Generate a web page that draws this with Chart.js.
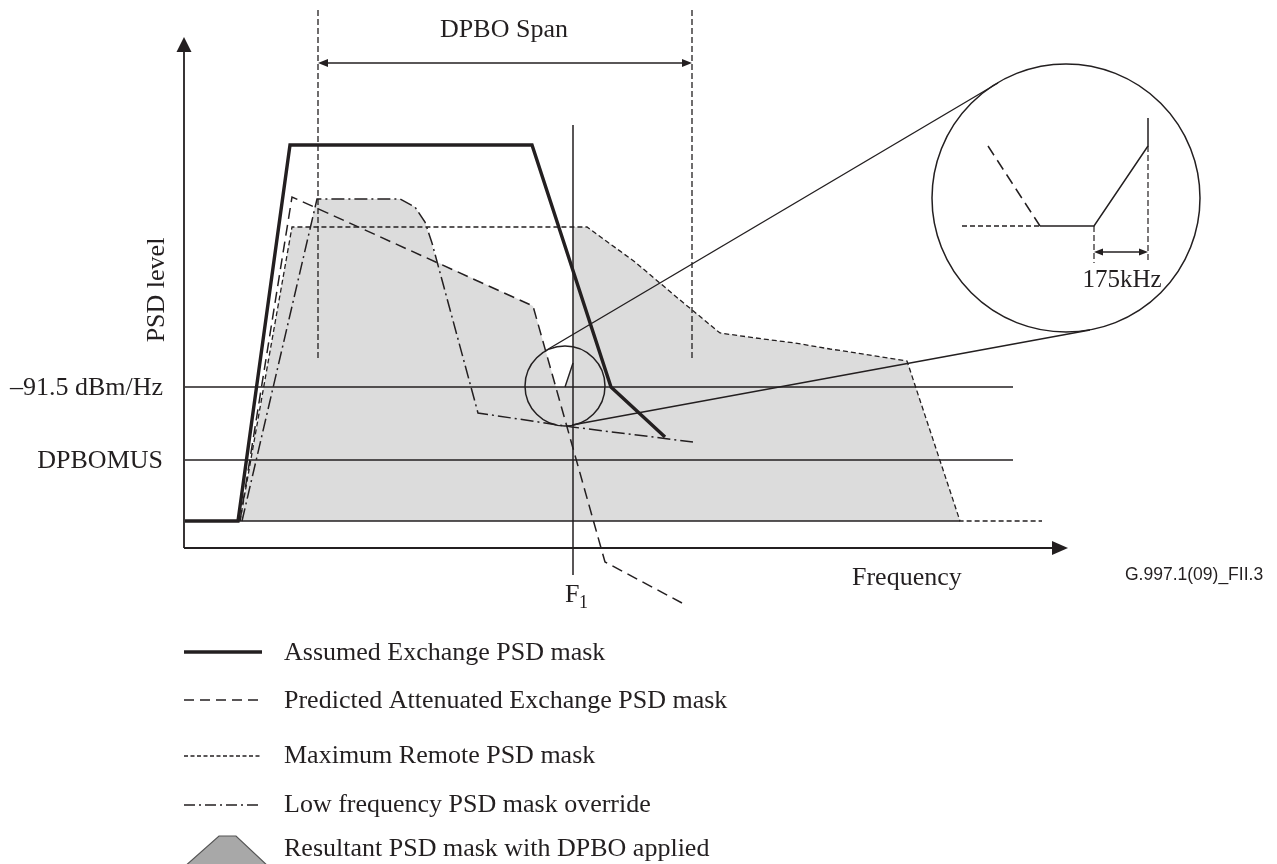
<!DOCTYPE html>
<html><head><meta charset="utf-8">
<script src="https://cdn.jsdelivr.net/npm/chart.js@4"></script>
<style>html,body{margin:0;padding:0;background:#fff;overflow:hidden}canvas{display:block}</style>
</head><body>
<canvas id="c" width="1277" height="864"></canvas>
<script>
// Schematic units: x = frequency (arbitrary), y = PSD level (arbitrary)
const assumedMask   = [[1,27],[54,27],[106,403],[348,403],[427,161],[481,111]];
const predictedMask = [[56,27],[108,351],[349,242],[421,-14],[498,-55]];
const remoteMask    = [[56,27],[108,321],[403,321],[451,286],[496,248],[536,215],[579,209],[611,205],[646,199],[673,195],[723,187],[776,27],[858,27]];
const lowFreqMask   = [[58,27],[133,349],[216,349],[231,341],[241,326],[248,305],[294,135],[388,121],[509,106]];
const resultantMask = [[56,27],[108,321],[126,321],[133,349],[216,349],[231,341],[241,326],[253,286],[349,242],[372,161],[381,161],[389,185],[389,321],[403,321],[451,286],[496,248],[536,215],[579,209],[611,205],[646,199],[673,195],[723,187],[776,27]];
const floorLevel = 27, floorStart = 54, floorEnd = 776;
const level915 = 161, levelDPBOMUS = 88, refLineEnd = 829;
const F1 = 389;
const dpboSpanStart = 134, dpboSpanEnd = 508;
const riseSegment = [[381,161],[389,185]];
// zoom inset (magnified view around F1)
const zoomCircle = {x:381, y:162, r:40};
const bigCircle  = {x:882, y:350, r:134};
const tangentUpper = [[361,197],[814,465]];
const tangentLower = [[388,123],[906,218]];
const insetPred   = [[804,402],[856,322]];
const insetRemote = [[778,322],[856,322]];
const insetResult = [[856,322],[910,322],[964,402],[964,430]];
const insetGap = [910, 964]; // 175 kHz
const legendLabels = ['Assumed Exchange PSD mask','Predicted Attenuated Exchange PSD mask','Maximum Remote PSD mask','Low frequency PSD mask override','Resultant PSD mask with DPBO applied'];

const INK = '#231f20';
const SERIF = '"Liberation Serif","Times New Roman",serif';
const pts = a => a.map(([x,y]) => ({x, y}));
const DASH = [11,6], SHORT = [5,3], DOTDASH = [13,4,2,4];

function ln(data, o) {
  return Object.assign({data: pts(data), showLine: true, pointRadius: 0, borderColor: INK,
    borderWidth: 1.5, fill: false, tension: 0, borderCapStyle: 'butt', borderJoinStyle: 'miter', order: 0}, o || {});
}

const datasets = [
  ln(resultantMask, {fill: {value: floorLevel}, backgroundColor: '#dcdcdc', borderWidth: 0, borderColor: 'rgba(0,0,0,0)', order: 10}),
  ln([[0,0],[870,0]], {borderWidth: 1.8}),
  ln([[0,0],[0,500]], {borderWidth: 1.8}),
  ln([[floorStart,floorLevel],[floorEnd,floorLevel]], {borderWidth: 1.4}),
  ln([[1,level915],[refLineEnd,level915]], {borderWidth: 1.5}),
  ln([[1,levelDPBOMUS],[refLineEnd,levelDPBOMUS]], {borderWidth: 1.5}),
  ln([[F1,423],[F1,-27]], {borderWidth: 1.5}),
  ln([[dpboSpanStart,538],[dpboSpanStart,188]], {borderWidth: 1.3, borderDash: [6,3]}),
  ln([[dpboSpanEnd,538],[dpboSpanEnd,188]], {borderWidth: 1.3, borderDash: [6,3]}),
  ln([[dpboSpanStart+4,485],[dpboSpanEnd-4,485]], {borderWidth: 1.5}),
  ln(remoteMask, {borderWidth: 1.3, borderDash: SHORT}),
  ln(predictedMask, {borderWidth: 1.5, borderDash: DASH}),
  ln(lowFreqMask, {borderWidth: 1.5, borderDash: DOTDASH}),
  ln(riseSegment, {borderWidth: 1.4}),
  ln(assumedMask, {borderWidth: 3.4}),
  ln(tangentUpper, {borderWidth: 1.4}),
  ln(tangentLower, {borderWidth: 1.4}),
  ln(insetPred, {borderWidth: 1.5, borderDash: DASH}),
  ln(insetRemote, {borderWidth: 1.3, borderDash: SHORT}),
  ln(insetResult, {borderWidth: 1.5}),
  ln([[insetGap[0],322],[insetGap[0],285]], {borderWidth: 1.2, borderDash: [6,3]}),
  ln([[insetGap[1],402],[insetGap[1],285]], {borderWidth: 1.2, borderDash: [6,3]}),
  ln([[insetGap[0]+4,296],[insetGap[1]-4,296]], {borderWidth: 1.4}),
  {type: 'bubble', data: [zoomCircle], backgroundColor: 'rgba(0,0,0,0)', borderColor: INK, borderWidth: 1.5, order: 0, clip: false},
  {type: 'bubble', data: [bigCircle], backgroundColor: 'rgba(0,0,0,0)', borderColor: INK, borderWidth: 1.5, order: 0, clip: false}
];

function arrow(ctx, tx, ty, dx, dy, len, hw) {
  const bx = tx - dx*len, by = ty - dy*len;
  ctx.beginPath();
  ctx.moveTo(tx, ty);
  ctx.lineTo(bx - dy*hw, by + dx*hw);
  ctx.lineTo(bx + dy*hw, by - dx*hw);
  ctx.closePath();
  ctx.fill();
}

const annot = {
  id: 'annot',
  afterDraw(chart) {
    const ctx = chart.ctx, xs = chart.scales.x, ys = chart.scales.y;
    const X = v => xs.getPixelForValue(v), Y = v => ys.getPixelForValue(v);
    ctx.save();
    ctx.fillStyle = INK; ctx.strokeStyle = INK;
    // arrowheads
    arrow(ctx, X(0), Y(511), 0, -1, 15, 7.5);
    arrow(ctx, X(884), Y(0), 1, 0, 16, 7);
    arrow(ctx, X(dpboSpanStart), Y(485), -1, 0, 10, 4);
    arrow(ctx, X(dpboSpanEnd), Y(485), 1, 0, 10, 4);
    arrow(ctx, X(insetGap[0]), Y(296), -1, 0, 9, 3.5);
    arrow(ctx, X(insetGap[1]), Y(296), 1, 0, 9, 3.5);
    // texts
    const T = (s, x, y, align, size, fam) => {
      ctx.font = size + 'px ' + (fam || SERIF);
      ctx.textAlign = align; ctx.textBaseline = 'alphabetic';
      ctx.fillText(s, X(x), Y(y));
    };
    T('DPBO Span', 320, 511, 'center', 26);
    T('\u201391.5 dBm/Hz', -21, 153, 'right', 26);
    T('DPBOMUS', -21, 80, 'right', 26);
    T('Frequency', 668, -37, 'left', 26);
    T('F', 381, -54, 'left', 26);
    T('1', 395, -60, 'left', 18);
    T('175kHz', 938, 261, 'center', 25);
    T('G.997.1(09)_FII.3', 941, -32, 'left', 17.5, '"Liberation Sans",Arial,sans-serif');
    ctx.save();
    ctx.translate(X(-20), Y(258));
    ctx.rotate(-Math.PI/2);
    ctx.font = '26px ' + SERIF; ctx.textAlign = 'center'; ctx.textBaseline = 'alphabetic';
    ctx.fillText('PSD level', 0, 0);
    ctx.restore();
    // legend
    const lx0 = X(0), lx1 = X(78);
    const samples = [{w:3.4, d:[]}, {w:1.5, d:[10,6]}, {w:1.4, d:[4,2.5]}, {w:1.5, d:[11,4,2,4]}];
    const ly = [-104, -152, -208, -257];
    samples.forEach((s, i) => {
      ctx.lineWidth = s.w; ctx.setLineDash(s.d);
      ctx.beginPath(); ctx.moveTo(lx0, Y(ly[i])); ctx.lineTo(lx1, Y(ly[i])); ctx.stroke();
    });
    ctx.setLineDash([]);
    ctx.beginPath();
    ctx.moveTo(X(-1), Y(-320)); ctx.lineTo(X(35), Y(-288)); ctx.lineTo(X(52), Y(-288)); ctx.lineTo(X(86), Y(-320));
    ctx.closePath();
    ctx.fillStyle = '#a8a8a8'; ctx.fill();
    ctx.lineWidth = 1.2; ctx.strokeStyle = '#555'; ctx.stroke();
    ctx.fillStyle = INK;
    const tb = [-112, -160, -215, -264, -308];
    legendLabels.forEach((s, i) => T(s, 100, tb[i], 'left', 26));
    ctx.restore();
  }
};

new Chart(document.getElementById('c'), {
  type: 'scatter',
  data: {datasets},
  options: {
    responsive: false, devicePixelRatio: 1, animation: false, events: [],
    layout: {padding: 0, autoPadding: false},
    scales: {
      x: {type: 'linear', min: -184, max: 1093, display: false},
      y: {type: 'linear', min: -316, max: 548, display: false}
    },
    plugins: {legend: {display: false}, tooltip: {enabled: false}},
    elements: {point: {radius: 0}}
  },
  plugins: [annot]
});
</script>
</body></html>
